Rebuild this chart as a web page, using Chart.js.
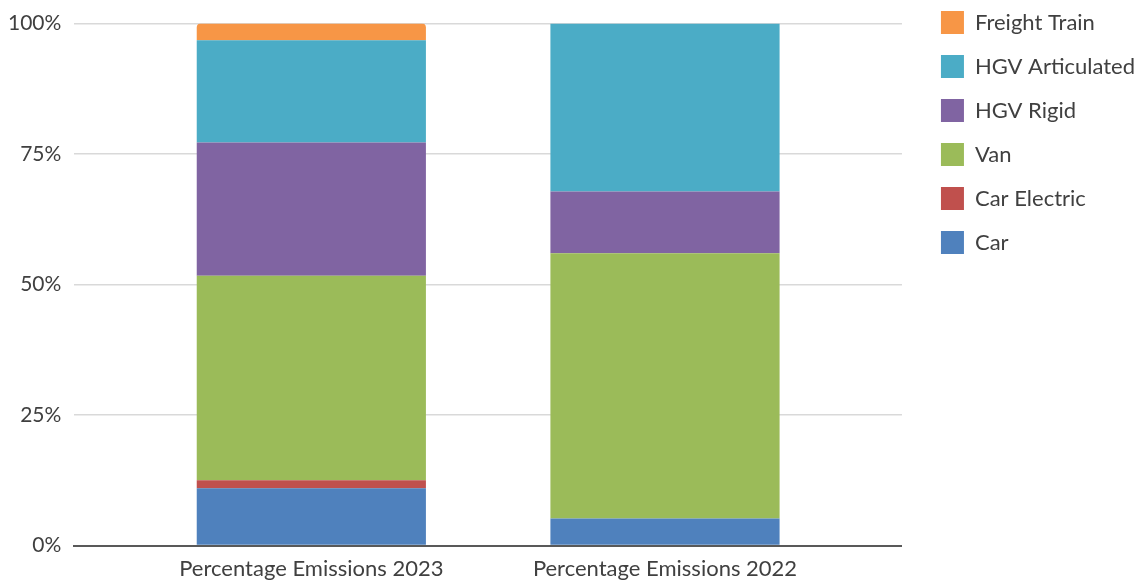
<!DOCTYPE html>
<html>
<head>
<meta charset="utf-8">
<script src="https://cdn.jsdelivr.net/npm/chart.js@4.4.1/dist/chart.umd.min.js"></script>
<style>
  html, body { margin: 0; padding: 0; background: #fff; }
  #wrap { width: 1145px; height: 580px; }
</style>
</head>
<body>
<div id="wrap"><canvas id="grafico"></canvas></div>
<script>
// categorias y valores (% de emisiones)
const categorias = ['Percentage Emissions 2023', 'Percentage Emissions 2022'];
const car = [11.0, 5.2];
const carElectric = [1.5, 0];
const van = [39.2, 50.8];
const hgvRigid = [25.5, 11.8];
const hgvArticulated = [19.6, 32.2];
const freightTrain = [3.2, 0];
const ticksY = [0, 25, 50, 75, 100];

function puntos(valores) {
    return valores.map((v, i) => ({ x: i, y: v }));
}

const series = [
    { label: 'Car', data: car, color: '#4F81BD' },
    { label: 'Car Electric', data: carElectric, color: '#C0504D' },
    { label: 'Van', data: van, color: '#9BBB59' },
    { label: 'HGV Rigid', data: hgvRigid, color: '#8064A2' },
    { label: 'HGV Articulated', data: hgvArticulated, color: '#4BACC6' },
    { label: 'Freight Train', data: freightTrain, color: '#F79646' }
];

const fuente = 'Lato, "Open Sans", sans-serif';

// mover la leyenda un poco (arriba y a la derecha)
const moverLeyenda = {
    id: 'moverLeyenda',
    afterLayout(chart) {
        const l = chart.legend;
        const dy = l.top + 21 + 11.5 - 22.5;
        l.top -= dy; l.bottom -= dy;
        l.left += 18; l.right += 18;
    }
};

const ctx = document.getElementById('grafico').getContext('2d');
new Chart(ctx, {
    type: 'bar',
    data: {
        datasets: series.map(s => ({
            label: s.label,
            data: puntos(s.data),
            backgroundColor: s.color,
            borderWidth: 0,
            borderRadius: s.label === 'Freight Train' ? { topLeft: 4, topRight: 4 } : 0,
            borderSkipped: false,
            categoryPercentage: 1,
            barPercentage: 0.648
        }))
    },
    options: {
        responsive: true,
        maintainAspectRatio: false,
        animation: false,
        layout: { padding: { top: 12, left: -5, right: 18, bottom: -12 } },
        plugins: {
            tooltip: { enabled: false },
            legend: {
                position: 'right',
                align: 'start',
                reverse: true,
                labels: {
                    boxWidth: 23,
                    boxHeight: 23,
                    padding: 21,
                    color: '#404040',
                    font: { family: fuente, size: 22 }
                }
            }
        },
        scales: {
            x: {
                type: 'linear',
                stacked: true,
                offset: false,
                min: -0.67,
                max: 1.67,
                afterBuildTicks: axis => {
                    axis.ticks = categorias.map((c, i) => ({ value: i }));
                },
                grid: { display: false, drawTicks: false, offset: false },
                border: { display: true, color: '#595959', width: 2 },
                ticks: {
                    padding: 10,
                    color: '#404040',
                    font: { family: fuente, size: 22 },
                    callback: v => categorias[v]
                }
            },
            y: {
                stacked: true,
                min: 0,
                max: 100,
                afterBuildTicks: axis => {
                    axis.ticks = ticksY.map(v => ({ value: v }));
                },
                grid: { color: '#d9d9d9', lineWidth: 1.5, drawTicks: false },
                border: { display: false },
                ticks: {
                    padding: 13,
                    color: '#404040',
                    font: { family: fuente, size: 21, lineHeight: 1 },
                    callback: v => v + '%'
                }
            }
        }
    },
    plugins: [moverLeyenda]
});
</script>
</body>
</html>
